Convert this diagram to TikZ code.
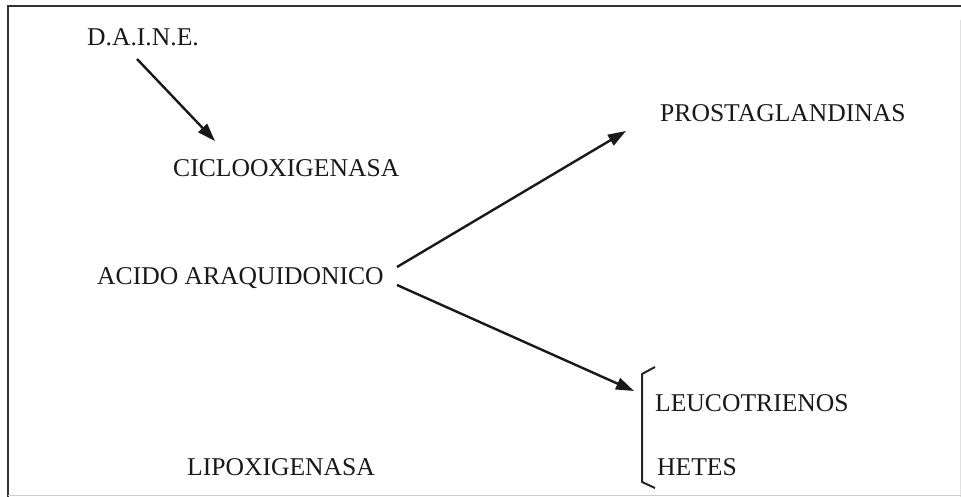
\documentclass[tikz,border=0pt]{standalone}
\usepackage{fontspec}
\setmainfont{Liberation Serif}
\usetikzlibrary{arrows.meta}
\begin{document}
\begin{tikzpicture}[x=1pt,y=-1pt,
  lbl/.style={anchor=base west,inner sep=0pt,font=\fontsize{25.6}{30}\selectfont,text=black!90},
  conn/.style={line width=2.4pt,draw=black!90,-{Triangle[length=18pt,width=12pt]}},
  frameline/.style={line width=2.4pt,draw=black!80}]
\useasboundingbox (0,0) rectangle (961,497);
\fill[white] (0,0) rectangle (961,497);
% frame
\draw[frameline] (8,497) -- (8,6) -- (961,6);
\draw[line width=1pt,draw=black!12] (960,20) -- (960,497);
\draw[line width=1pt,draw=black!20] (8,495) -- (961,495);
% labels
\node[lbl] (daine) at (87,46) {D.A.I.N.E.};
\node[lbl] (ciclo) at (173,177) {CICLOOXIGENASA};
\node[lbl] (prosta) at (660,122) {PROSTAGLANDINAS};
\node[lbl] (acido) at (97,284) {ACIDO ARAQUIDONICO};
\node[lbl] (lipo) at (187,475) {LIPOXIGENASA};
\node[lbl] (leuco) at (655,411) {LEUCOTRIENOS};
\node[lbl] (hetes) at (657,475) {HETES};
% connector endpoints
\coordinate (d0) at (137,59);
\coordinate (d1) at (215,141);
\coordinate (a0) at (397,267);
\coordinate (p1) at (626,131);
\coordinate (a1) at (397,285);
\coordinate (l1) at (634,391);
\draw[conn] (d0) -- (d1);
\draw[conn] (a0) -- (p1);
\draw[conn] (a1) -- (l1);
% bracket
\coordinate (bt) at (655,367);
\coordinate (bb) at (655,488);
\draw[line width=2pt,draw=black!85,line join=round]
  (bt) -- (642,374) -- (642,482) -- (bb);
\end{tikzpicture}
\end{document}
